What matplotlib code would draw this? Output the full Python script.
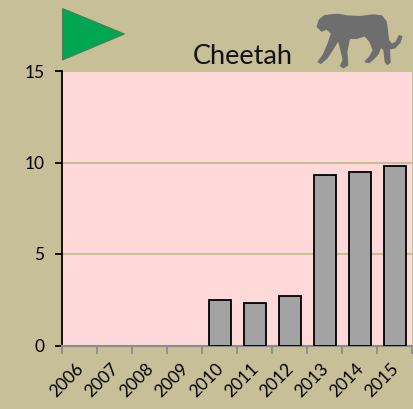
import matplotlib
matplotlib.use('Agg')
import matplotlib.pyplot as plt
from matplotlib.patches import Polygon

plt.rcParams['font.family'] = ['Lato', 'DejaVu Sans']

years = ['2006', '2007', '2008', '2009', '2010', '2011', '2012', '2013', '2014', '2015']
values = [0, 0, 0, 0, 2.5, 2.3, 2.7, 9.3, 9.5, 9.8]
yticks = [0, 5, 10, 15]

W, H = 414, 409
bg = '#c7bf98'

fig = plt.figure(figsize=(W / 100, H / 100), dpi=100, facecolor=bg)
ax = fig.add_axes([62.5 / W, 1 - 345.5 / H, 350 / W, 274.5 / H], facecolor='#ffd9d9')

# decorations, placed in pixels
deco = fig.add_axes([0, 0, 1, 1], facecolor='none', zorder=5)
deco.set_xlim(0, W)
deco.set_ylim(H, 0)
deco.axis('off')

triangle = [(62.5, 8.5), (124.5, 34), (62.5, 60)]
deco.add_patch(Polygon(triangle, closed=True, facecolor='#00a651', edgecolor='#4f7f4f', lw=0.8))

# outline traced at 3x, from the nose round the back to the front legs
outline = [(22, 65), (28, 45), (42, 33), (60, 30), (85, 28), (110, 33), (150, 35), (190, 30), (215, 33),
           (228, 50), (232, 75), (235, 105), (245, 118), (258, 112), (268, 92), (275, 95), (270, 112),
           (255, 128), (238, 132), (240, 172), (232, 178), (226, 170), (222, 135), (212, 125), (205, 145),
           (190, 162), (178, 172), (165, 170), (180, 155), (190, 135), (180, 110), (165, 92), (140, 100),
           (118, 100), (110, 140), (113, 180), (100, 188), (92, 182), (100, 165), (92, 130), (85, 105),
           (70, 130), (50, 160), (32, 175), (25, 170), (40, 150), (55, 115), (65, 85), (50, 72), (35, 78)]
cheetah = [(310 + px / 3, 5 + py / 3) for px, py in outline]
deco.add_patch(Polygon(cheetah, closed=True, facecolor='#6e6e6e', edgecolor='#6e6e6e', lw=1.0))

deco.text(242.5, 54, 'Cheetah', ha='center', va='center_baseline', fontsize=19.5, color='#111111')

x = [i for i, v in enumerate(values) if v > 0]
ax.bar(x, [values[i] for i in x], width=0.64, color='#a3a3a3', edgecolor='black', linewidth=1.3, zorder=3)
ax.set_xlim(-0.5, 9.5)
ax.set_ylim(0, 15)

ax.set_yticks(yticks)
ax.yaxis.grid(True, color='#c7bf98', lw=1.5, zorder=1)
ax.set_axisbelow(True)
ax.tick_params(axis='y', length=5, width=1.3, color='black', labelsize=12.5, pad=8)

ax.set_xticks([i - 0.5 for i in range(len(years) + 1)])
ax.set_xticklabels([])
ax.tick_params(axis='x', length=6, width=1.3, color='#8c8c8c')
for i, y in enumerate(years):
    ax.annotate(y, (i, 0), xycoords=('data', 'axes fraction'), xytext=(-9.6, -11),
                textcoords='offset points', rotation=45, ha='center', va='top',
                fontsize=12.5, color='black')

for s in ['top', 'right']:
    ax.spines[s].set_visible(False)
ax.spines['left'].set(color='black', lw=1.3)
ax.spines['bottom'].set(color='#8c8c8c', lw=1.5)

plt.savefig('out.png', dpi=100, facecolor=bg)
plt.close()
